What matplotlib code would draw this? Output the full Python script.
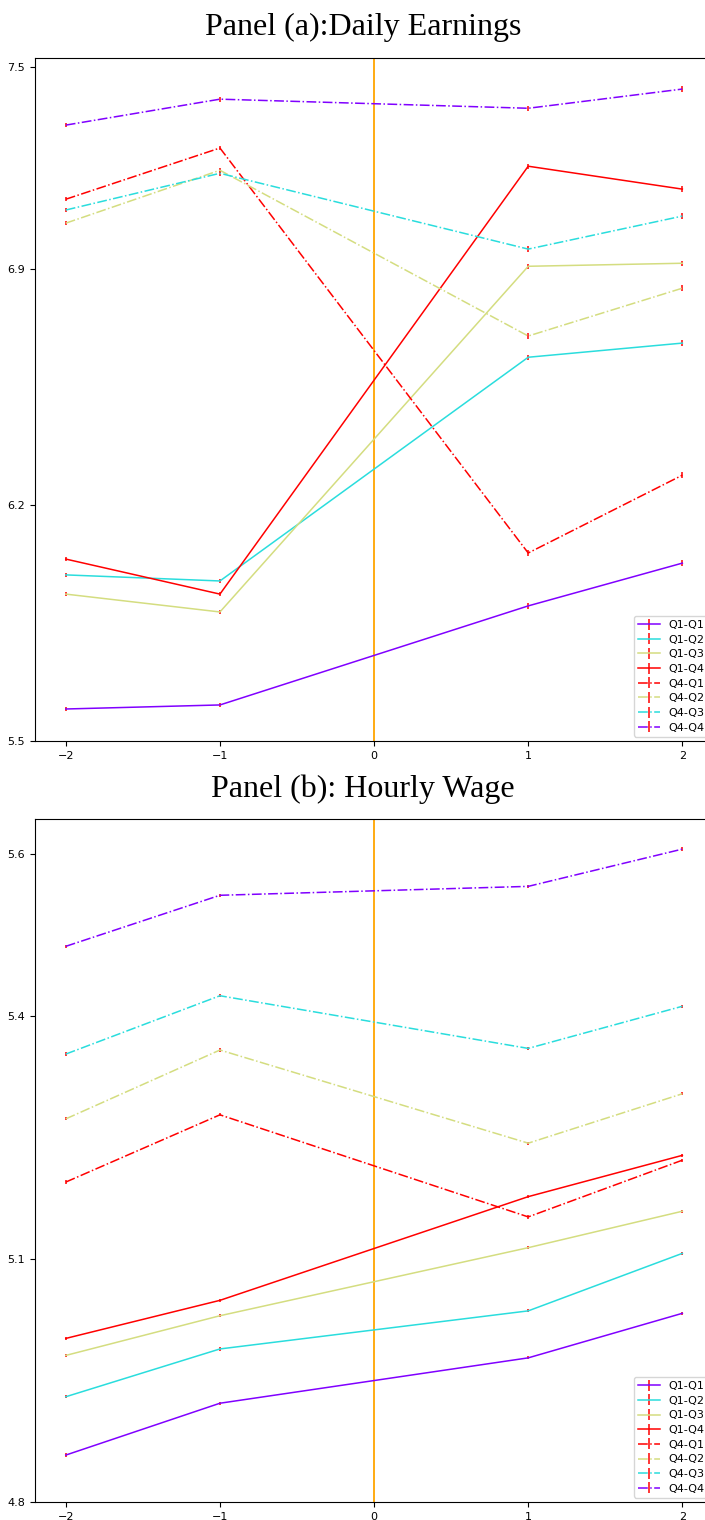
import matplotlib
matplotlib.use("Agg")
import matplotlib.pyplot as plt

# event time (t=0 omitted, lines connect -1 to 1)
event_time = [-2, -1, 1, 2]
groups = ["Q1-Q1", "Q1-Q2", "Q1-Q3", "Q1-Q4", "Q4-Q1", "Q4-Q2", "Q4-Q3", "Q4-Q4"]

# Panel (a): log daily earnings
earn_q1q1 = [5.595, 5.607, 5.901, 6.028]
earn_q1q2 = [5.993, 5.975, 6.639, 6.681]
earn_q1q3 = [5.936, 5.883, 6.909, 6.918]
earn_q1q4 = [6.040, 5.936, 7.206, 7.138]
earn_q4q1 = [7.108, 7.260, 6.058, 6.289]
earn_q4q2 = [7.037, 7.194, 6.702, 6.844]
earn_q4q3 = [7.076, 7.185, 6.960, 7.058]
earn_q4q4 = [7.328, 7.405, 7.378, 7.435]
earn_se = [0.006, 0.007, 0.008, 0.008]

# Panel (b): log hourly wage
wage_q1q1 = [4.858, 4.922, 4.978, 5.033]
wage_q1q2 = [4.930, 4.989, 5.036, 5.107]
wage_q1q3 = [4.981, 5.030, 5.114, 5.159]
wage_q1q4 = [5.002, 5.049, 5.177, 5.228]
wage_q4q1 = [5.195, 5.278, 5.152, 5.222]
wage_q4q2 = [5.273, 5.358, 5.243, 5.304]
wage_q4q3 = [5.353, 5.425, 5.360, 5.412]
wage_q4q4 = [5.486, 5.549, 5.560, 5.606]
wage_se = [0.002, 0.002, 0.002, 0.002]

earn_ticks = [5.5, 6.2, 6.9, 7.5]
wage_ticks = [4.8, 5.1, 5.4, 5.6]

earnings = [earn_q1q1, earn_q1q2, earn_q1q3, earn_q1q4,
            earn_q4q1, earn_q4q2, earn_q4q3, earn_q4q4]
wages = [wage_q1q1, wage_q1q2, wage_q1q3, wage_q1q4,
         wage_q4q1, wage_q4q2, wage_q4q3, wage_q4q4]

cmap = plt.get_cmap("rainbow")
cols = [cmap(i / 3) for i in range(4)]
colors = cols + [cols[3], cols[2], cols[1], cols[0]]
styles = ["-"] * 4 + ["-."] * 4

fig = plt.figure(figsize=(7.05, 15.2), dpi=100)
ax1 = fig.add_axes([0.0496, 0.5125, 0.962, 0.4493])
ax2 = fig.add_axes([0.0496, 0.0118, 0.962, 0.4493])


def draw(ax, series, se, ticks, ylim):
    for name, y, c, ls in zip(groups, series, colors, styles):
        ax.errorbar(event_time, y, yerr=se, color=c, ls=ls, lw=1.1,
                    ecolor="red", elinewidth=1.1, label=name)
    ax.axvline(0, color="orange", lw=1.3)
    ax.set_xlim(-2.2, 2.2)
    ax.set_xticks([-2, -1, 0, 1, 2])
    ax.set_ylim(*ylim)
    ax.set_yticks(ticks)
    ax.set_yticklabels([f"{t:.1f}" for t in ticks])
    ax.tick_params(labelsize=8)
    ax.legend(loc="lower right", fontsize=8, handlelength=2.0,
              borderpad=0.35, labelspacing=0.42, borderaxespad=0.4)


draw(ax1, earnings, earn_se, earn_ticks, (5.5, 7.527))
draw(ax2, wages, wage_se, wage_ticks, (4.8, 5.643))

title_font = dict(family=["Liberation Serif", "DejaVu Serif"], fontsize=23)
fig.text(363 / 705, 1 - 27 / 1520, "Panel (a):Daily Earnings",
         ha="center", va="center", **title_font)
fig.text(363 / 705, 1 - 789 / 1520, "Panel (b): Hourly Wage",
         ha="center", va="center", **title_font)

fig.savefig("out.png", dpi=100)
